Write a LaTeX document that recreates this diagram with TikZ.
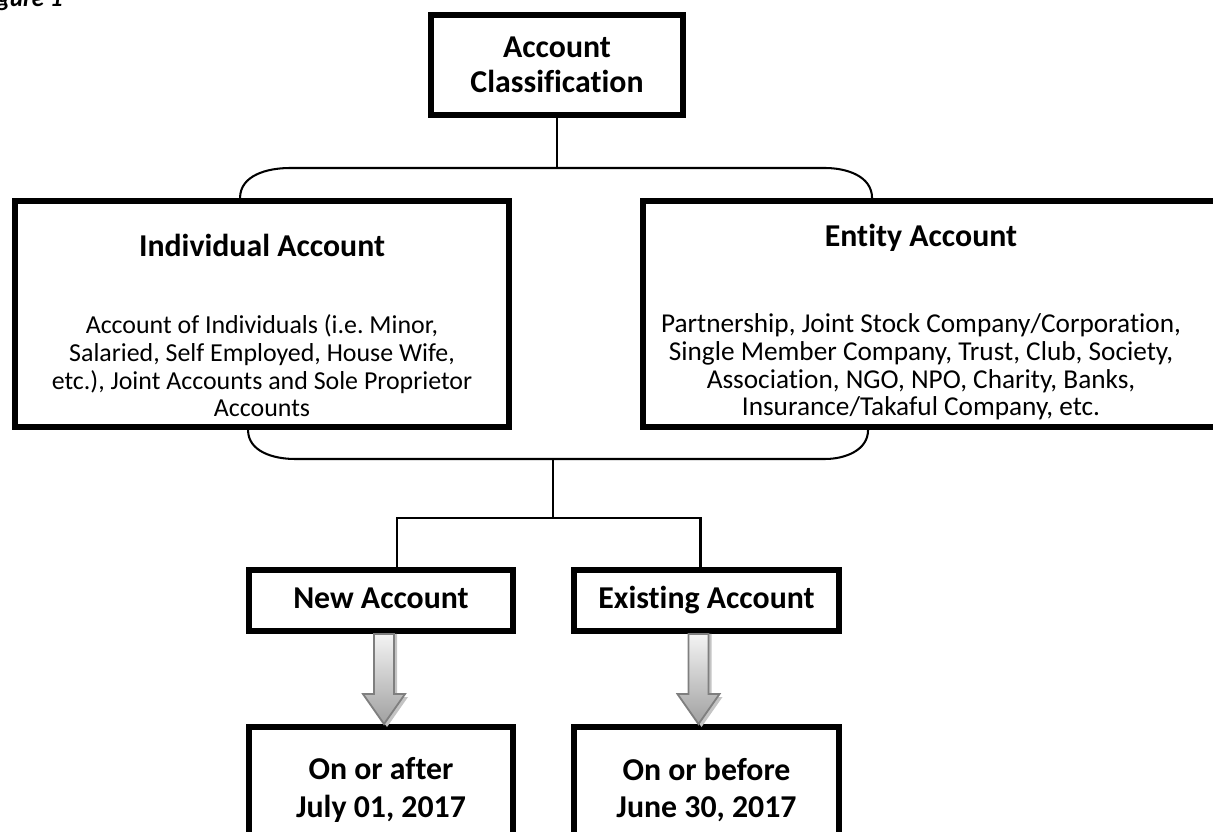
\documentclass[tikz,border=0pt]{standalone}
\usepackage{fontspec}
\setmainfont{Carlito}[Ligatures={NoCommon,NoContextual,NoRequired}]
\usetikzlibrary{calc}
\definecolor{arrline}{HTML}{7F7F7F}
\definecolor{arrtop}{HTML}{F4F4F4}
\definecolor{arrbot}{HTML}{A0A0A0}
\definecolor{arrshadow}{HTML}{C4C4C4}
\newdimen\px
\px=0.44pt
\frenchspacing
% block arrow between two boxes: from, to, x offset, shift
\newcommand{\arrowpath}[4]{%
  ($(#1.south)+(#3-10+#4,0)$) -- ($(#1.south)+(#3+10+#4,0)$)
  -- ($(#2.north)+(#3+10+#4,-30+#4)$) -- ($(#2.north)+(#3+21+#4,-30+#4)$)
  -- ($(#2.north)+(#3+#4,#4)$) -- ($(#2.north)+(#3-21+#4,-30+#4)$)
  -- ($(#2.north)+(#3-10+#4,-30+#4)$) -- cycle}

\begin{document}
\begin{tikzpicture}[
  x=\px, y=-\px,
  thickbox/.style={draw=black, line width=2.6pt, fill=white, inner sep=0pt},
  headtext/.style={font=\fontsize{14}{15.4}\selectfont\bfseries, align=center, inner sep=0pt},
  oneline/.style={text height=10pt, text depth=3pt},
  bodytext/.style={font=\fontsize{11}{12.2}\selectfont, align=center, inner sep=0pt},
  link/.style={draw=black, line width=0.9pt},
  arrbody/.style={draw=arrline, line width=0.8pt, top color=arrtop, bottom color=arrbot},
  arrshade/.style={fill=arrshadow},
]
\useasboundingbox (0,0) rectangle (1213,832);

% Caption
\node[font=\fontsize{11}{13}\selectfont\bfseries\itshape, anchor=base east, inner sep=0pt]
  (figlabel) at (63,7) {Figure 1};

% ---- Top box ----
\node[thickbox, headtext, minimum width=252\px, minimum height=100\px]
  (classif) at (557,65) {Account\\Classification};

% ---- Individual / Entity ----
\node[thickbox, minimum width=494\px, minimum height=226\px] (indiv) at (262,314) {};
\node[headtext] (indivhead) at (262,245) {Individual Account};
\node[bodytext, font=\fontsize{11.4}{12.2}\selectfont] (indivbody) at (262,366)
  {Account of Individuals (i.e. Minor,\\Salaried, Self Employed, House Wife,\\etc.), Joint Accounts and Sole Proprietor\\Accounts};

\node[thickbox, minimum width=574\px, minimum height=226\px] (entity) at (930,314) {};
\node[headtext] (entityhead) at (921,238) {Entity Account};
\node[bodytext, font=\fontsize{12}{12.2}\selectfont] (entitybody) at (921,367)
  {Partnership, Joint Stock Company/Corporation,\\Single Member Company, Trust, Club, Society,\\Association, NGO, NPO, Charity, Banks,\\Insurance/Takaful Company, etc.};

% ---- New / Existing ----
\node[thickbox, headtext, oneline, minimum width=264\px, minimum height=61\px] (newacc) at (381,600.5) {New Account};
\node[thickbox, headtext, oneline, minimum width=265\px, minimum height=61\px] (existacc) at (706.5,600.5) {Existing Account};

% ---- Dates ----
\node[thickbox, minimum width=264\px, minimum height=170\px] (after) at (381,812) {};
\node[headtext, font=\fontsize{14}{16.5}\selectfont\bfseries] (aftertext) at (381,790) {On or after\\July 01, 2017};
\node[thickbox, minimum width=265\px, minimum height=170\px] (before) at (706.5,812) {};
\node[headtext, font=\fontsize{14}{16.5}\selectfont\bfseries] (beforetext) at (706.5,790) {On or before\\June 30, 2017};

% Brackets and links
\coordinate (topbrace) at (557,168);
\coordinate (botbrace) at (553,459);
\coordinate (split) at (553,518);

\draw[link] (classif.south) -- (topbrace);
\draw[link] ($(indiv.north west)+(228,0)$) to[out=90,in=180] ($(topbrace)+(-267,0)$)
  -- ($(topbrace)+(268,0)$) to[out=0,in=90] ($(entity.north west)+(232,0)$);
\draw[link] ($(indiv.south west)+(236,0)$) to[out=-90,in=180] ($(botbrace)+(-258,0)$)
  -- ($(botbrace)+(272,0)$) to[out=0,in=-90] ($(entity.south west)+(228,0)$);
\draw[link] (botbrace) -- (split);
\draw[link] (split) -| ($(newacc.north)+(16,0)$);
\draw[link] (split) -| ($(existacc.north)+(-6,0)$);

% Block arrows
\fill[arrshade] \arrowpath{newacc}{after}{3}{3};
\path[arrbody] \arrowpath{newacc}{after}{3}{0};
\fill[arrshade] \arrowpath{existacc}{before}{-8}{3};
\path[arrbody] \arrowpath{existacc}{before}{-8}{0};

\end{tikzpicture}
\end{document}
